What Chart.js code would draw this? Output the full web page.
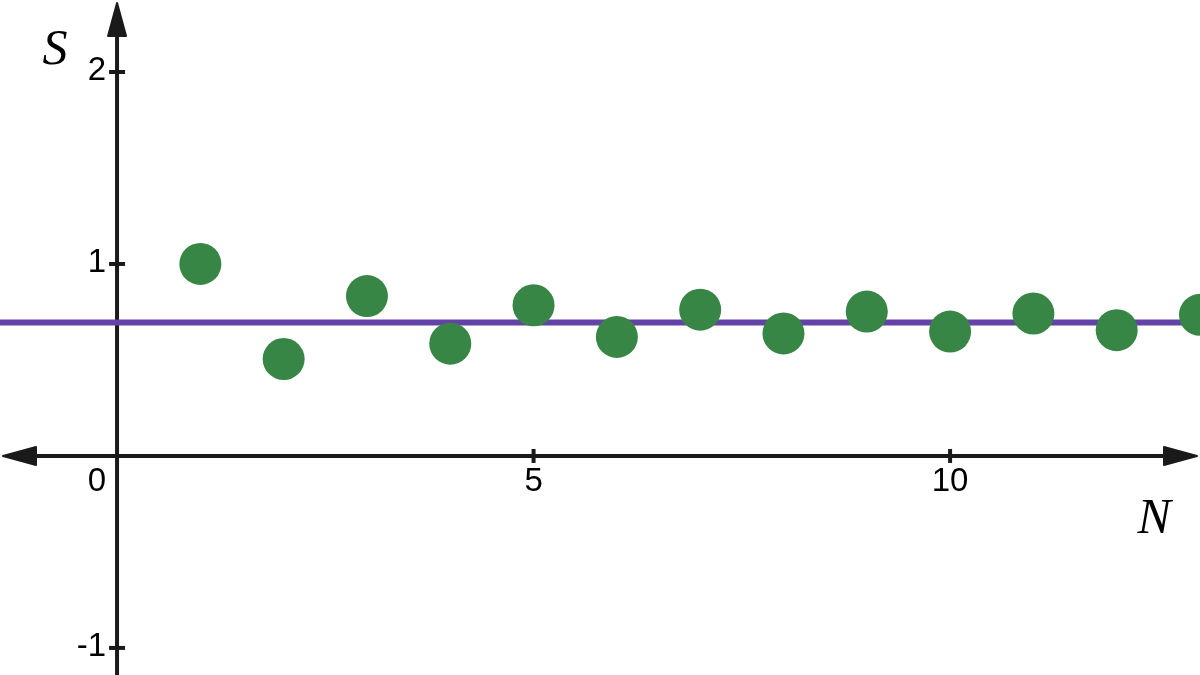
<!DOCTYPE html>
<html>
<head>
<meta charset="utf-8">
<script src="https://cdn.jsdelivr.net/npm/chart.js@4/dist/chart.umd.min.js"></script>
<style>
  html, body { margin: 0; padding: 0; background: #fff; }
  #wrap { width: 1200px; height: 675px; }
</style>
</head>
<body>
<div id="wrap"><canvas id="c" width="1200" height="675"></canvas></div>
<script>
// partial sums S_N
const nValues = [1, 2, 3, 4, 5, 6, 7, 8, 9, 10, 11, 12, 13];
const sValues = [1.0, 0.505, 0.833, 0.585, 0.785, 0.62, 0.762, 0.638, 0.752, 0.648, 0.742, 0.655, 0.735];
const limitValue = 0.695;
const xTicks = [0, 5, 10];
const yTicks = [-1, 1, 2];
const xRange = [-1.405, 13.0];
const yRange = [-1.141, 2.375];

const axisColor = '#1a1a1a';

// axes with arrows, ticks and labels, drawn from the chart's scales
const axesPlugin = {
  id: 'axes',
  beforeDatasetsDraw(chart) {
    const ctx = chart.ctx;
    const xs = chart.scales.x, ys = chart.scales.y;
    const x0 = xs.getPixelForValue(0), y0 = ys.getPixelForValue(0);
    const L = xs.left, R = xs.right, T = ys.top, B = ys.bottom;
    ctx.save();
    ctx.strokeStyle = axisColor;
    ctx.fillStyle = axisColor;
    ctx.lineWidth = 4;
    // x axis
    ctx.beginPath(); ctx.moveTo(L + 20, y0); ctx.lineTo(R - 20, y0); ctx.stroke();
    // y axis
    ctx.beginPath(); ctx.moveTo(x0, T + 20); ctx.lineTo(x0, B); ctx.stroke();
    // arrows
    ctx.lineJoin = 'round';
    ctx.lineWidth = 2;
    const arrow = (pts) => {
      ctx.beginPath();
      ctx.moveTo(pts[0][0], pts[0][1]);
      pts.slice(1).forEach(p => ctx.lineTo(p[0], p[1]));
      ctx.closePath(); ctx.fill(); ctx.stroke();
    };
    arrow([[L + 3, y0], [L + 36, y0 - 9], [L + 36, y0 + 9]]);
    arrow([[R - 3, y0], [R - 36, y0 - 9], [R - 36, y0 + 9]]);
    arrow([[x0, T + 3], [x0 - 9, T + 36], [x0 + 9, T + 36]]);
    // ticks
    ctx.lineWidth = 4;
    xTicks.filter(v => v !== 0).forEach(v => {
      const px = xs.getPixelForValue(v);
      ctx.beginPath(); ctx.moveTo(px, y0 - 7); ctx.lineTo(px, y0 + 7); ctx.stroke();
    });
    yTicks.forEach(v => {
      const py = ys.getPixelForValue(v);
      ctx.beginPath(); ctx.moveTo(x0 - 8, py); ctx.lineTo(x0 + 8, py); ctx.stroke();
    });
    // tick labels
    ctx.fillStyle = '#000';
    ctx.font = '33px "Liberation Sans", Arial, sans-serif';
    ctx.textBaseline = 'alphabetic';
    ctx.textAlign = 'center';
    xTicks.forEach(v => {
      const px = v === 0 ? x0 - 20 : xs.getPixelForValue(v);
      ctx.fillText(String(v), px, y0 + 35);
    });
    ctx.textAlign = 'right';
    yTicks.forEach(v => {
      const py = ys.getPixelForValue(v);
      ctx.fillText(String(v), x0 - 11, py + 8);
    });
    // axis titles
    ctx.font = 'italic 50px "Liberation Serif", "Times New Roman", serif';
    ctx.textAlign = 'center';
    ctx.fillText('S', x0 - 62, T + 64);
    ctx.fillText('N', xs.getPixelForValue(12.45), y0 + 77);
    ctx.restore();
  }
};

new Chart(document.getElementById('c').getContext('2d'), {
  type: 'scatter',
  data: {
    datasets: [
      {
        type: 'line',
        data: [{ x: xRange[0], y: limitValue }, { x: xRange[1], y: limitValue }],
        borderColor: '#6344a6',
        borderWidth: 6,
        pointRadius: 0,
        order: 2
      },
      {
        data: nValues.map((n, i) => ({ x: n, y: sValues[i] })),
        backgroundColor: '#388645',
        borderWidth: 0,
        pointRadius: 21,
        order: 1
      }
    ]
  },
  options: {
    responsive: false,
    animation: false,
    events: [],
    layout: { padding: 0, autoPadding: false },
    plugins: { legend: { display: false }, tooltip: { enabled: false } },
    scales: {
      x: { type: 'linear', display: false, min: xRange[0], max: xRange[1] },
      y: { type: 'linear', display: false, min: yRange[0], max: yRange[1] }
    }
  },
  plugins: [axesPlugin]
});
</script>
</body>
</html>
